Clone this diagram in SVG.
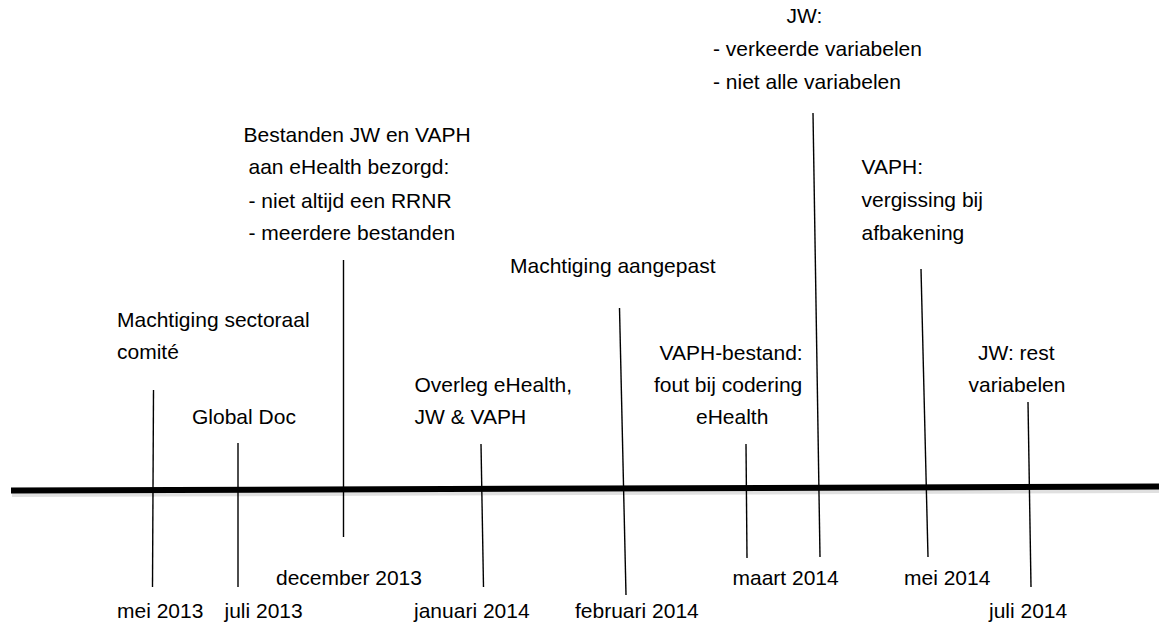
<svg xmlns="http://www.w3.org/2000/svg" width="1159" height="624" viewBox="0 0 1159 624">
<style>
text{font-family:"Liberation Sans",Arial,sans-serif;font-size:21px;fill:#000;}
.tick{stroke:#000;stroke-width:1.4;fill:none;}
.axis{stroke:#000;stroke-width:6;fill:none;}
.shadow{stroke:#000;stroke-width:6;fill:none;opacity:0.12;}
</style>
<rect width="1159" height="624" fill="#fff"/>
<g id="connectors">
<line class="shadow" x1="12" y1="494" x2="1159" y2="490"/>
<line class="axis" x1="11" y1="490.5" x2="1159" y2="486.5"/>
<line class="tick" x1="153.5" y1="390" x2="152.5" y2="587"/>
<line class="tick" x1="238" y1="443" x2="238" y2="587"/>
<line class="tick" x1="343.5" y1="260" x2="343.5" y2="537"/>
<line class="tick" x1="481" y1="444" x2="483.5" y2="587"/>
<line class="tick" x1="619.5" y1="308" x2="626" y2="595"/>
<line class="tick" x1="746" y1="444" x2="747" y2="558"/>
<line class="tick" x1="813" y1="113" x2="820" y2="557"/>
<line class="tick" x1="921" y1="269" x2="928" y2="557"/>
<line class="tick" x1="1028" y1="402" x2="1031" y2="587"/>
</g>
<g id="n-mei2013">
<text x="117" y="327">Machtiging sectoraal</text>
<text x="117" y="359">comité</text>
<text x="117" y="618">mei 2013</text>
</g>
<g id="n-juli2013">
<text x="192" y="424">Global Doc</text>
<text x="224.5" y="618">juli 2013</text>
</g>
<g id="n-dec2013">
<text x="243.5" y="141.5">Bestanden JW en VAPH</text>
<text x="248.5" y="174">aan eHealth bezorgd:</text>
<text x="248.5" y="207.5">- niet altijd een RRNR</text>
<text x="248.5" y="240">- meerdere bestanden</text>
<text x="276" y="585">december 2013</text>
</g>
<g id="n-jan2014">
<text x="414.5" y="391.5">Overleg eHealth,</text>
<text x="414.5" y="424">JW &amp; VAPH</text>
<text x="414" y="618">januari 2014</text>
</g>
<g id="n-feb2014">
<text x="510" y="273">Machtiging aangepast</text>
<text x="575" y="618">februari 2014</text>
</g>
<g id="n-maart2014-vaph">
<text x="659.5" y="360">VAPH-bestand:</text>
<text x="654" y="391.5">fout bij codering</text>
<text x="696" y="424">eHealth</text>
<text x="732.5" y="585">maart 2014</text>
</g>
<g id="n-maart2014-jw">
<text x="786.5" y="23">JW:</text>
<text x="713" y="56">- verkeerde variabelen</text>
<text x="713" y="89">- niet alle variabelen</text>
</g>
<g id="n-mei2014">
<text x="861.5" y="174">VAPH:</text>
<text x="861.5" y="207">vergissing bij</text>
<text x="861.5" y="240">afbakening</text>
<text x="904" y="585">mei 2014</text>
</g>
<g id="n-juli2014">
<text x="978" y="360">JW: rest</text>
<text x="968.5" y="392">variabelen</text>
<text x="989" y="618">juli 2014</text>
</g>
</svg>
